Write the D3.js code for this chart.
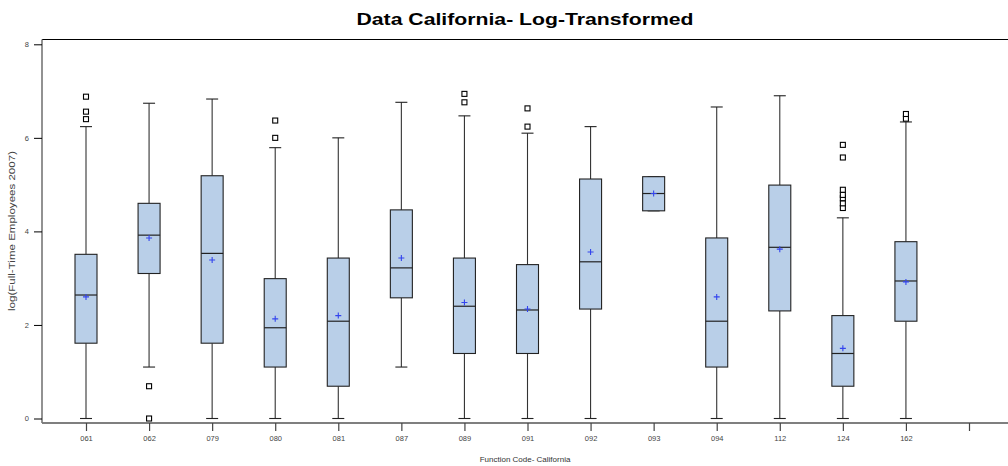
<!DOCTYPE html>
<html>
<head>
<meta charset="utf-8">
<script src="https://cdnjs.cloudflare.com/ajax/libs/d3/7.8.5/d3.min.js"></script>
<style>
body{margin:0;background:#fff;}
text{font-family:"Liberation Sans",Arial,sans-serif;}
</style>
</head>
<body>
<div class="plot"></div>
<script>
// categories (last slot is empty in the original)
var codes = ['061','062','079','080','081','087','089','091','092','093','094','112','124','162',''];
var q1     = [1.61,3.10,1.61,1.10,0.69,2.58,1.39,1.39,2.34,4.44,1.10,2.30,0.69,2.08];
var median = [2.64,3.92,3.53,1.94,2.08,3.22,2.40,2.32,3.35,4.81,2.08,3.66,1.39,2.94];
var q3     = [3.51,4.60,5.19,2.99,3.43,4.46,3.43,3.29,5.12,5.17,3.86,4.99,2.20,3.78];
var mean   = [2.60,3.86,3.39,2.13,2.20,3.43,2.48,2.34,3.56,4.81,2.60,3.62,1.50,2.92];
var whiskLo= [0,1.10,0,0,0,1.10,0,0,0,4.44,0,0,0,0];
var whiskHi= [6.24,6.74,6.83,5.79,6.00,6.76,6.47,6.10,6.24,5.17,6.66,6.90,4.29,6.34];
var outliers = [
  [6.40,6.56,6.88],
  [0,0.69],
  [],
  [6.00,6.37],
  [],
  [],
  [6.76,6.94],
  [6.24,6.63],
  [],
  [],
  [],
  [],
  [4.50,4.60,4.71,4.78,4.89,5.58,5.85],
  [6.41,6.51]
];
var yTicks = [0,2,4,6,8];

var W = 1008, H = 466;
var m = {t:39.5,r:0,b:43,l:42};

var svg = d3.select('.plot').append('svg')
    .attr('width',W).attr('height',H);

var x = d3.scalePoint().domain(codes).range([86,969]);
var y = d3.scaleLinear().domain([0,8]).range([418.5,44.3]);

// frame
svg.append('line').attr('x1',m.l).attr('x2',W).attr('y1',m.t).attr('y2',m.t)
    .attr('stroke','#000').attr('stroke-width',1.2);
svg.append('line').attr('x1',m.l).attr('x2',W).attr('y1',H-m.b).attr('y2',H-m.b)
    .attr('stroke','#000').attr('stroke-width',1.2);
svg.append('line').attr('x1',m.l).attr('x2',m.l).attr('y1',m.t).attr('y2',H-m.b)
    .attr('stroke','#777').attr('stroke-width',1.6);

// y axis
var yAxis = d3.axisLeft(y).tickValues(yTicks).tickSize(8).tickPadding(5);
var gy = svg.append('g').attr('transform','translate('+m.l+',0)').call(yAxis);
gy.select('.domain').remove();
gy.selectAll('text').style('font-size','7.5px').attr('fill','#444');
gy.selectAll('line').attr('stroke','#000');

// x axis
var xAxis = d3.axisBottom(x).tickSize(8).tickPadding(5);
var gx = svg.append('g').attr('transform','translate(0,'+(H-m.b)+')').call(xAxis);
gx.select('.domain').remove();
gx.selectAll('text').style('font-size','7.5px').attr('fill','#444');
gx.selectAll('line').attr('stroke','#444').attr('stroke-width',1.2);

var bw = 22, cw = 12;
var boxes = svg.append('g').selectAll('g.box')
    .data(codes.slice(0,14))
    .enter().append('g').attr('class','box');

boxes.each(function(d,i){
    var g = d3.select(this), cx = x(d);
    // whiskers
    g.append('line').attr('x1',cx).attr('x2',cx).attr('y1',y(q3[i])).attr('y2',y(whiskHi[i]))
        .attr('stroke','#333').attr('stroke-width',1.1);
    g.append('line').attr('x1',cx).attr('x2',cx).attr('y1',y(q1[i])).attr('y2',y(whiskLo[i]))
        .attr('stroke','#333').attr('stroke-width',1.1);
    g.append('line').attr('x1',cx-cw/2).attr('x2',cx+cw/2).attr('y1',y(whiskHi[i])).attr('y2',y(whiskHi[i]))
        .attr('stroke','#222').attr('stroke-width',1.1);
    g.append('line').attr('x1',cx-cw/2).attr('x2',cx+cw/2).attr('y1',y(whiskLo[i])).attr('y2',y(whiskLo[i]))
        .attr('stroke','#222').attr('stroke-width',1.1);
    // box
    g.append('rect').attr('x',cx-bw/2).attr('width',bw)
        .attr('y',y(q3[i])).attr('height',y(q1[i])-y(q3[i]))
        .attr('fill','#b9cfe8').attr('stroke','#222').attr('stroke-width',1.1);
    g.append('line').attr('x1',cx-bw/2).attr('x2',cx+bw/2).attr('y1',y(median[i])).attr('y2',y(median[i]))
        .attr('stroke','#222').attr('stroke-width',1.2);
    // mean
    var my = y(mean[i]);
    g.append('path').attr('d','M'+(cx-3)+','+my+'H'+(cx+3)+'M'+cx+','+(my-3)+'V'+(my+3))
        .attr('stroke','#3344ee').attr('stroke-width',1.1);
    // outliers
    g.selectAll('rect.out').data(outliers[i]).enter().append('rect').attr('class','out')
        .attr('x',cx-2.5).attr('y',function(v){return y(v)-2.5;})
        .attr('width',5).attr('height',5)
        .attr('fill','#fff').attr('stroke','#000').attr('stroke-width',1.1);
});

// titles
svg.append('text').attr('x',525).attr('y',25).attr('text-anchor','middle')
    .style('font-size','16.5px').style('font-weight','bold')
    .attr('textLength',337).attr('lengthAdjust','spacingAndGlyphs')
    .text('Data California- Log-Transformed');
svg.append('text').attr('x',525).attr('y',462).attr('text-anchor','middle')
    .style('font-size','8px').attr('fill','#333').text('Function Code- California');
svg.append('text').attr('transform','translate(15,231) rotate(-90)').attr('text-anchor','middle')
    .style('font-size','8.5px').attr('fill','#444')
    .attr('textLength',160).attr('lengthAdjust','spacingAndGlyphs')
    .text('log(Full-Time Employees 2007)');
</script>
</body>
</html>
